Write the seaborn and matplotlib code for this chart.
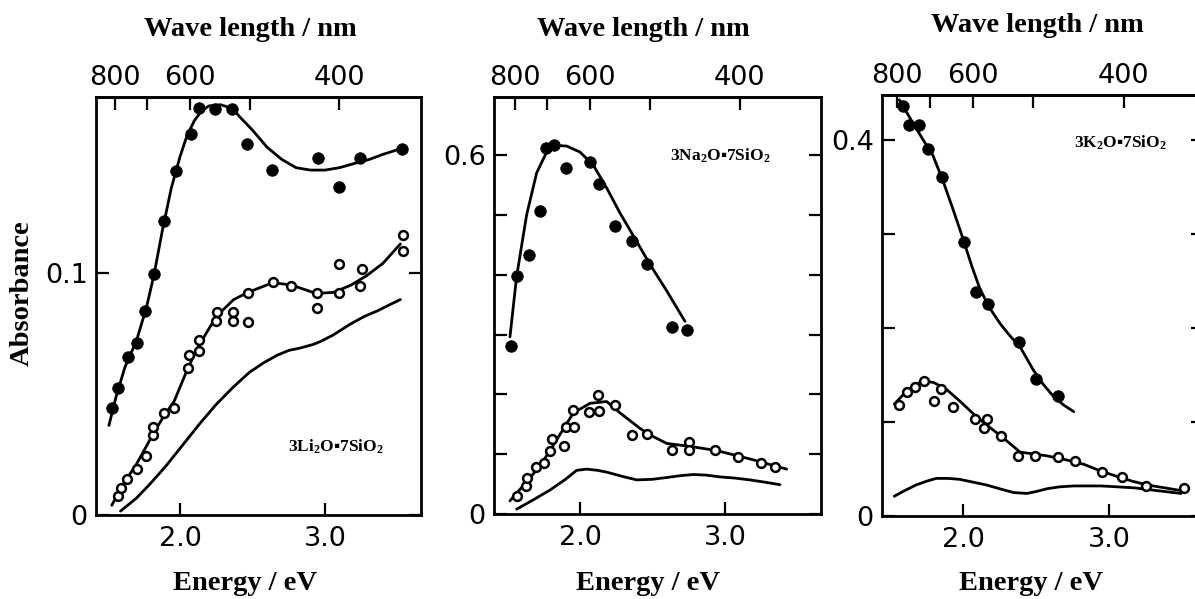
import numpy as np
import pandas as pd
import matplotlib
matplotlib.use("Agg")
import matplotlib.pyplot as plt
import seaborn as sns

# ---------------- data ----------------
# Panel 1 : 3Li2O.7SiO2
li_fill_E = [1.53, 1.575, 1.644, 1.701, 1.759, 1.821, 1.89, 1.97, 2.074, 2.131, 2.241, 2.361, 2.464, 2.632, 2.949, 3.099, 3.241, 3.533]
li_fill_A = [0.0441, 0.0523, 0.0654, 0.0709, 0.0843, 0.0995, 0.1216, 0.142, 0.1575, 0.1682, 0.1677, 0.1677, 0.1532, 0.1425, 0.1477, 0.1357, 0.1477, 0.1512]
li_fcurve_E = [1.51, 1.56, 1.62, 1.70, 1.77, 1.82, 1.88, 1.94, 2.00, 2.05, 2.10, 2.15, 2.20, 2.28, 2.36, 2.42, 2.50, 2.60, 2.70, 2.80, 2.90, 3.00, 3.10, 3.20, 3.30, 3.40, 3.53]
li_fcurve_A = [0.037, 0.049, 0.061, 0.072, 0.086, 0.099, 0.118, 0.135, 0.148, 0.157, 0.163, 0.167, 0.169, 0.1695, 0.168, 0.164, 0.159, 0.152, 0.147, 0.1435, 0.1425, 0.1425, 0.1435, 0.1452, 0.1468, 0.149, 0.1515]
li_open_E = [1.575, 1.59, 1.632, 1.701, 1.763, 1.816, 1.816, 1.89, 1.959, 2.057, 2.064, 2.133, 2.133, 2.248, 2.253, 2.368, 2.368, 2.471, 2.471, 2.639, 2.766, 2.947, 2.947, 3.097, 3.097, 3.241, 3.253, 3.54, 3.54]
li_open_A = [0.0079, 0.011, 0.015, 0.0192, 0.0244, 0.0331, 0.0365, 0.0422, 0.0444, 0.0606, 0.0661, 0.0677, 0.0721, 0.0803, 0.0838, 0.0803, 0.0838, 0.0798, 0.0917, 0.0961, 0.0948, 0.0917, 0.0854, 0.0917, 0.1039, 0.0948, 0.1016, 0.109, 0.1157]
li_ocurve_E = [1.53, 1.60, 1.70, 1.82, 1.89, 1.96, 2.05, 2.13, 2.25, 2.37, 2.47, 2.64, 2.77, 2.94, 3.06, 3.18, 3.29, 3.40, 3.52]
li_ocurve_A = [0.004, 0.012, 0.021, 0.034, 0.041, 0.047, 0.060, 0.070, 0.082, 0.089, 0.092, 0.096, 0.095, 0.0915, 0.092, 0.095, 0.099, 0.104, 0.112]
li_base_E = [1.59, 1.70, 1.79, 1.90, 2.02, 2.14, 2.25, 2.37, 2.48, 2.58, 2.67, 2.75, 2.83, 2.92, 2.97, 3.06, 3.17, 3.27, 3.36, 3.45, 3.52]
li_base_A = [0.0016, 0.007, 0.0126, 0.020, 0.029, 0.038, 0.0457, 0.053, 0.059, 0.063, 0.066, 0.068, 0.069, 0.0705, 0.0717, 0.0745, 0.0787, 0.082, 0.0843, 0.087, 0.089]

# Panel 2 : 3Na2O.7SiO2
na_fill_E = [1.524, 1.563, 1.648, 1.724, 1.763, 1.823, 1.903, 2.069, 2.133, 2.241, 2.356, 2.46, 2.632, 2.74]
na_fill_A = [0.280, 0.397, 0.433, 0.506, 0.611, 0.616, 0.578, 0.589, 0.552, 0.481, 0.457, 0.418, 0.312, 0.308]
na_fcurve_E = [1.517, 1.563, 1.632, 1.701, 1.77, 1.839, 1.908, 2.0, 2.092, 2.184, 2.276, 2.368, 2.483, 2.598, 2.724]
na_fcurve_A = [0.296, 0.397, 0.500, 0.570, 0.605, 0.616, 0.615, 0.605, 0.583, 0.545, 0.503, 0.465, 0.417, 0.373, 0.322]
na_open_E = [1.568, 1.628, 1.632, 1.697, 1.752, 1.793, 1.809, 1.89, 1.901, 1.959, 1.954, 2.062, 2.131, 2.126, 2.241, 2.361, 2.464, 2.637, 2.754, 2.754, 2.931, 3.092, 3.246, 3.345]
na_open_A = [0.030, 0.046, 0.061, 0.078, 0.086, 0.105, 0.126, 0.113, 0.145, 0.146, 0.174, 0.170, 0.172, 0.199, 0.183, 0.132, 0.134, 0.107, 0.121, 0.107, 0.107, 0.096, 0.085, 0.078]
na_ocurve_E = [1.517, 1.60, 1.678, 1.75, 1.816, 1.88, 1.954, 2.069, 2.184, 2.276, 2.414, 2.50, 2.598, 2.759, 2.943, 3.172, 3.425]
na_ocurve_A = [0.022, 0.045, 0.067, 0.090, 0.115, 0.140, 0.169, 0.185, 0.188, 0.169, 0.143, 0.130, 0.118, 0.113, 0.106, 0.092, 0.075]
na_base_E = [1.563, 1.68, 1.793, 1.90, 1.977, 2.046, 2.12, 2.184, 2.29, 2.391, 2.50, 2.598, 2.69, 2.782, 2.87, 2.966, 3.07, 3.172, 3.28, 3.379]
na_base_A = [0.008, 0.024, 0.040, 0.058, 0.073, 0.075, 0.073, 0.070, 0.063, 0.057, 0.058, 0.061, 0.064, 0.066, 0.065, 0.062, 0.060, 0.057, 0.053, 0.049]

# Panel 3 : 3K2O.7SiO2
k_fill_E = [1.591, 1.628, 1.701, 1.759, 1.857, 2.005, 2.092, 2.172, 2.384, 2.501, 2.648]
k_fill_A = [0.436, 0.416, 0.416, 0.391, 0.361, 0.292, 0.238, 0.226, 0.185, 0.146, 0.128]
k_fcurve_E = [1.563, 1.65, 1.72, 1.793, 1.862, 1.93, 2.0, 2.06, 2.115, 2.18, 2.253, 2.32, 2.391, 2.483, 2.55, 2.621, 2.69, 2.759]
k_fcurve_A = [0.443, 0.420, 0.402, 0.384, 0.357, 0.327, 0.295, 0.266, 0.242, 0.222, 0.205, 0.192, 0.180, 0.155, 0.140, 0.127, 0.118, 0.111]
k_open_E = [1.559, 1.614, 1.674, 1.736, 1.798, 1.851, 1.931, 2.08, 2.161, 2.143, 2.257, 2.379, 2.494, 2.648, 2.77, 2.954, 3.092, 3.253, 3.517]
k_open_A = [0.118, 0.132, 0.137, 0.144, 0.122, 0.135, 0.116, 0.103, 0.103, 0.094, 0.085, 0.064, 0.064, 0.063, 0.058, 0.047, 0.041, 0.032, 0.030]
k_ocurve_E = [1.529, 1.62, 1.724, 1.80, 1.885, 1.98, 2.069, 2.16, 2.253, 2.391, 2.575, 2.70, 2.828, 2.94, 3.057, 3.16, 3.264, 3.38, 3.494]
k_ocurve_A = [0.119, 0.134, 0.144, 0.142, 0.135, 0.122, 0.109, 0.097, 0.086, 0.068, 0.064, 0.060, 0.055, 0.048, 0.042, 0.037, 0.033, 0.030, 0.027]
k_base_E = [1.529, 1.60, 1.678, 1.75, 1.816, 1.90, 1.977, 2.07, 2.161, 2.25, 2.345, 2.437, 2.50, 2.575, 2.66, 2.759, 2.85, 2.943, 3.06, 3.172, 3.33, 3.494]
k_base_A = [0.021, 0.027, 0.033, 0.037, 0.040, 0.040, 0.039, 0.036, 0.033, 0.029, 0.025, 0.024, 0.026, 0.029, 0.031, 0.032, 0.032, 0.032, 0.031, 0.030, 0.027, 0.024]

panel_labels = [r"3Li$_\mathrm{2}$O▪7SiO$_\mathrm{2}$", r"3Na$_\mathrm{2}$O▪7SiO$_\mathrm{2}$", r"3K$_\mathrm{2}$O▪7SiO$_\mathrm{2}$"]
label_pos = [(3.076, 0.028), (2.97, 0.599), (3.075, 0.397)]
ev_ticks = [2.0, 3.0]
ev_ticklabels = ["2.0", "3.0"]
wl_ticks = [800, 700, 600, 500, 400]
wl_ticklabels = ["800", "", "600", "", "400"]
y_ticks = [[0, 0.1], [0, 0.1, 0.2, 0.3, 0.4, 0.5, 0.6], [0, 0.1, 0.2, 0.3, 0.4]]
y_ticklabels = [["0", "0.1"], ["0", "", "", "", "", "", "0.6"], ["0", "", "", "", "0.4"]]
xlims = [(1.421, 3.662), (1.407, 3.662), (1.445, 3.644)]
ylims = [(0, 0.1727), (0, 0.697), (0, 0.448)]
top_title = "Wave length / nm"
bottom_title = "Energy / eV"
y_title = "Absorbance"

# ---------------- style ----------------
sns.set_style("ticks")
plt.rcParams["font.family"] = ["DejaVu Sans"]
plt.rcParams["text.color"] = "black"
plt.rcParams["axes.labelcolor"] = "black"
plt.rcParams["xtick.color"] = "black"
plt.rcParams["ytick.color"] = "black"
plt.rcParams["axes.edgecolor"] = "black"
plt.rcParams["mathtext.fontset"] = "custom"
plt.rcParams["mathtext.rm"] = "Liberation Serif:bold"
plt.rcParams["mathtext.bf"] = "Liberation Serif:bold"
plt.rcParams["mathtext.it"] = "Liberation Serif:bold:italic"

W, H = 1195, 599
fig = plt.figure(figsize=(W / 100, H / 100), dpi=100)

def rect(l, t, r, b):
    return [l / W, 1 - b / H, (r - l) / W, (b - t) / H]

rects = [rect(96, 97, 421, 515), rect(494, 97, 821, 514), rect(882, 95, 1203, 516)]
title_pos = [(250, 29.5), (643, 29), (1037, 26)]
xlab_pos = [(245, 583), (648, 583), (1031, 583)]

panels = [
    (li_fill_E, li_fill_A, li_fcurve_E, li_fcurve_A, li_open_E, li_open_A, li_ocurve_E, li_ocurve_A, li_base_E, li_base_A),
    (na_fill_E, na_fill_A, na_fcurve_E, na_fcurve_A, na_open_E, na_open_A, na_ocurve_E, na_ocurve_A, na_base_E, na_base_A),
    (k_fill_E, k_fill_A, k_fcurve_E, k_fcurve_A, k_open_E, k_open_A, k_ocurve_E, k_ocurve_A, k_base_E, k_base_A),
]

tick_fs = 19.5
title_fs = 20.5
serif = ["Liberation Serif", "DejaVu Serif"]
LW = 2.0

for i, (fE, fA, fcE, fcA, oE, oA, ocE, ocA, bE, bA) in enumerate(panels):
    ax = fig.add_axes(rects[i])
    sns.lineplot(x=fcE, y=fcA, ax=ax, color="black", lw=LW, sort=False, zorder=2)
    sns.lineplot(x=ocE, y=ocA, ax=ax, color="black", lw=LW, sort=False, zorder=2)
    sns.lineplot(x=bE, y=bA, ax=ax, color="black", lw=LW, sort=False, zorder=2)
    sns.scatterplot(x=fE, y=fA, ax=ax, color="black", edgecolor="black", s=68, marker="o", zorder=3)
    sns.scatterplot(x=oE, y=oA, ax=ax, facecolor="white", edgecolor="black", linewidth=1.8, s=40, marker="o", zorder=4)

    ax.set_xlim(*xlims[i])
    ax.set_ylim(*ylims[i])
    ax.set_xlabel("")
    ax.set_ylabel("")
    for sp in ax.spines.values():
        sp.set_visible(True)
        sp.set_linewidth(2.0)
        sp.set_color("black")
    ax.set_xticks(ev_ticks)
    ax.set_xticklabels(ev_ticklabels)
    ax.set_yticks(y_ticks[i])
    ax.set_yticklabels(y_ticklabels[i])
    ax.tick_params(axis="x", direction="in", length=9, width=1.6, pad=8, labelsize=tick_fs, top=False,
                   colors="black")
    ax.tick_params(axis="y", direction="in", length=9, width=1.6, pad=6, labelsize=tick_fs, right=True,
                   colors="black")

    sec = ax.secondary_xaxis("top", functions=(lambda e: 1240.0 / e, lambda w: 1240.0 / w))
    sec.set_xticks(wl_ticks)
    sec.set_xticklabels(wl_ticklabels)
    sec.tick_params(direction="in", length=9, width=1.6, pad=4, labelsize=tick_fs, colors="black")
    sec.spines["top"].set_linewidth(2.0)
    sec.spines["top"].set_color("black")

    lx, ly = label_pos[i]
    ax.text(lx, ly, panel_labels[i], ha="center", va="center", fontsize=12.5,
            fontweight="bold", family=serif, color="black")

    tx, ty = title_pos[i]
    fig.text(tx / W, 1 - ty / H, top_title, ha="center", va="center", fontsize=title_fs,
             fontweight="bold", family=serif, color="black")
    bx, by = xlab_pos[i]
    fig.text(bx / W, 1 - by / H, bottom_title, ha="center", va="center", fontsize=title_fs,
             fontweight="bold", family=serif, color="black")

fig.text(22 / W, 1 - 293 / H, y_title, ha="center", va="center", rotation=90,
         fontsize=title_fs, fontweight="bold", family=serif, color="black")

fig.savefig("out.png", dpi=100)
